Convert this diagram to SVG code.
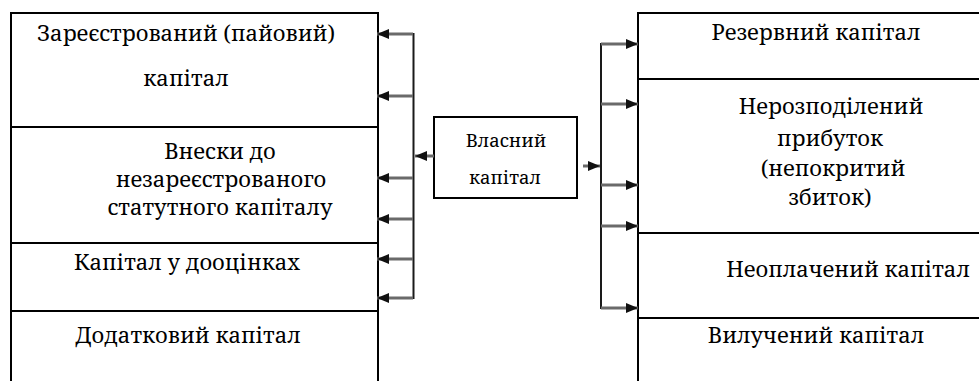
<svg xmlns="http://www.w3.org/2000/svg" width="979" height="381" viewBox="0 0 979 381">
  <style>
    .frame { fill: none; stroke: #000; stroke-width: 2; }
    .sep { stroke: #000; stroke-width: 2; }
    .label { font-family: 'Noto Serif', 'Liberation Serif', 'DejaVu Serif', serif; font-size: 22px; fill: #000; text-anchor: middle; }
    .small { font-size: 18.5px; }
    .bus { fill: none; stroke: #1a1a1a; stroke-width: 2; }
    .link { fill: none; stroke: #6a6a6a; stroke-width: 3; }
  </style>
  <defs>
    <marker id="head" viewBox="0 0 12 10" refX="12" refY="5" markerWidth="12" markerHeight="10" markerUnits="userSpaceOnUse" orient="auto">
      <path d="M0,0 L12,5 L0,10 Z" fill="#111"/>
    </marker>
  </defs>

  <rect width="979" height="381" fill="#fff"/>

  <!-- left column: components of equity -->
  <g id="left-column">
    <path class="frame" d="M11,381 V13 H378 V381"/>
  </g>
  <g id="registered-capital">
    <text class="label" x="186" y="41">Зареєстрований (пайовий)</text>
    <text class="label" x="186" y="86">капітал</text>
  </g>
  <g id="unregistered-contributions">
    <line class="sep" x1="11" y1="127" x2="378" y2="127"/>
    <text class="label" x="220" y="159">Внески до</text>
    <text class="label" x="221" y="187">незареєстрованого</text>
    <text class="label" x="220" y="215">статутного капіталу</text>
  </g>
  <g id="revaluation-capital">
    <line class="sep" x1="11" y1="243" x2="378" y2="243"/>
    <text class="label" x="187" y="270">Капітал у дооцінках</text>
  </g>
  <g id="additional-capital">
    <line class="sep" x1="11" y1="311" x2="378" y2="311"/>
    <text class="label" x="188" y="343">Додатковий капітал</text>
  </g>

  <!-- central node -->
  <g id="equity">
    <rect x="434" y="117" width="143" height="81" fill="#fff" stroke="#000" stroke-width="2"/>
    <text class="label small" x="506" y="147">Власний</text>
    <text class="label small" x="505" y="184">капітал</text>
  </g>

  <!-- right column -->
  <g id="right-column">
    <path class="frame" d="M979,13 H638 V381"/>
  </g>
  <g id="reserve-capital">
    <text class="label" x="816" y="40">Резервний капітал</text>
  </g>
  <g id="retained-earnings">
    <line class="sep" x1="638" y1="79" x2="979" y2="79"/>
    <text class="label" x="831" y="114">Нерозподілений</text>
    <text class="label" x="830" y="146">прибуток</text>
    <text class="label" x="833" y="176">(непокритий</text>
    <text class="label" x="830" y="205">збиток)</text>
  </g>
  <g id="unpaid-capital">
    <line class="sep" x1="638" y1="233" x2="979" y2="233"/>
    <text class="label" x="848" y="277">Неоплачений капітал</text>
  </g>
  <g id="withdrawn-capital">
    <line class="sep" x1="638" y1="318" x2="979" y2="318"/>
    <text class="label" x="816" y="343">Вилучений капітал</text>
  </g>

  <!-- connectors -->
  <g id="connectors">
    <line class="link" x1="434" y1="156" x2="415" y2="156" marker-end="url(#head)"/>
    <path class="bus" d="M378,34 H413.5 V298 H378"/>
    <line class="link" x1="413" y1="34" x2="377" y2="34" marker-end="url(#head)"/>
    <line class="link" x1="413" y1="96" x2="377" y2="96" marker-end="url(#head)"/>
    <line class="link" x1="413" y1="178" x2="377" y2="178" marker-end="url(#head)"/>
    <line class="link" x1="413" y1="219" x2="377" y2="219" marker-end="url(#head)"/>
    <line class="link" x1="413" y1="259" x2="377" y2="259" marker-end="url(#head)"/>
    <line class="link" x1="413" y1="298" x2="377" y2="298" marker-end="url(#head)"/>

    <line class="link" x1="583" y1="166" x2="600" y2="166" marker-end="url(#head)"/>
    <path class="bus" d="M638,44 H601 V308 H638"/>
    <line class="link" x1="601" y1="44" x2="638" y2="44" marker-end="url(#head)"/>
    <line class="link" x1="601" y1="104" x2="638" y2="104" marker-end="url(#head)"/>
    <line class="link" x1="601" y1="185" x2="638" y2="185" marker-end="url(#head)"/>
    <line class="link" x1="601" y1="226" x2="638" y2="226" marker-end="url(#head)"/>
    <line class="link" x1="601" y1="308" x2="638" y2="308" marker-end="url(#head)"/>
  </g>
</svg>
